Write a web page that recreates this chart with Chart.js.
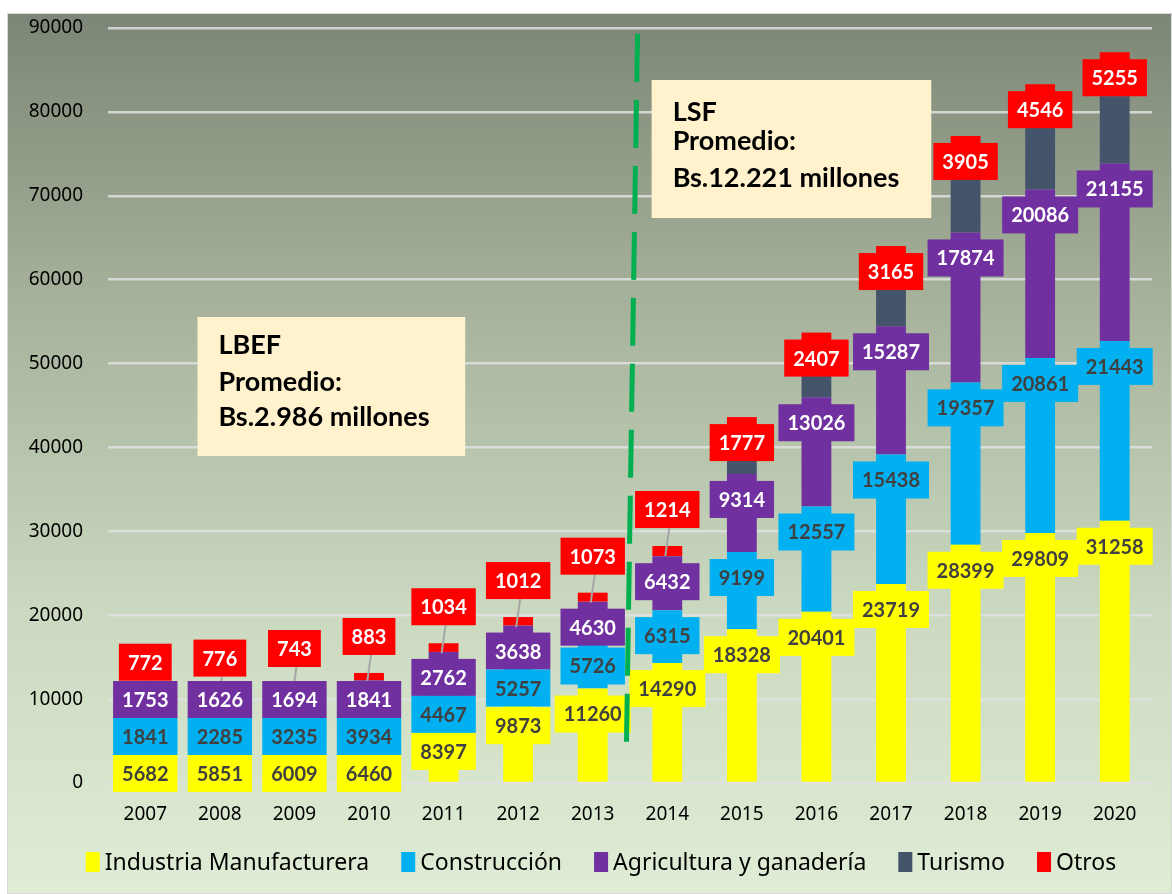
<!DOCTYPE html>
<html>
<head>
<meta charset="utf-8">
<script src="https://cdn.jsdelivr.net/npm/chart.js@4.4.1/dist/chart.umd.min.js"></script>
<style>
  html, body { margin: 0; padding: 0; background: #ffffff; }
  #wrap { width: 1172px; height: 894px; }
</style>
</head>
<body>
<div id="wrap"><canvas id="c" width="1172" height="894"></canvas></div>
<script>
// ---- data ----
const years = ['2007','2008','2009','2010','2011','2012','2013','2014','2015','2016','2017','2018','2019','2020'];
const industria    = [5682, 5851, 6009, 6460, 8397, 9873, 11260, 14290, 18328, 20401, 23719, 28399, 29809, 31258];
const construccion = [1841, 2285, 3235, 3934, 4467, 5257, 5726, 6315, 9199, 12557, 15438, 19357, 20861, 21443];
const agricultura  = [1753, 1626, 1694, 1841, 2762, 3638, 4630, 6432, 9314, 13026, 15287, 17874, 20086, 21155];
const turismo      = [0, 0, 0, 0, 0, 0, 0, 0, 5000, 5300, 6400, 7600, 8000, 8000];
const otros        = [772, 776, 743, 883, 1034, 1012, 1073, 1214, 1777, 2407, 3165, 3905, 4546, 5255];
const seriesNames  = ['Industria Manufacturera', 'Construcción', 'Agricultura y ganadería', 'Turismo', 'Otros'];
const yTicks       = [0, 10000, 20000, 30000, 40000, 50000, 60000, 70000, 80000, 90000];
const notes = [
  { lines: ['LBEF', 'Promedio:', 'Bs.2.986 millones'] },
  { lines: ['LSF', 'Promedio:', 'Bs.12.221 millones'] }
];

// ---- styles ----
const seriesColors = ['#FFFF00', '#00B0F0', '#7030A0', '#44546A', '#FF0000'];
const labelTextColors = ['#404040', '#404040', '#FFFFFF', null, '#FFFFFF'];
const movedOtrosLabels = 8; // first categories whose "Otros" label sits above the bar with a leader line

const bgPlugin = {
  id: 'bg',
  beforeDraw(chart) {
    const ctx = chart.ctx;
    ctx.save();
    ctx.fillStyle = '#ffffff';
    ctx.fillRect(0, 0, chart.width, chart.height);
    const g = ctx.createLinearGradient(0, 13, 0, chart.height);
    g.addColorStop(0, '#7c8676');
    g.addColorStop(0.33, '#a6b29b');
    g.addColorStop(0.68, '#cbd9c0');
    g.addColorStop(1, '#e0edd6');
    ctx.fillStyle = g;
    ctx.fillRect(7, 13, chart.width - 7, chart.height - 13);
    ctx.strokeStyle = '#d9d9d9';
    ctx.lineWidth = 1;
    ctx.strokeRect(7.5, 13.5, chart.width - 8, chart.height - 14);
    ctx.restore();
  }
};

const labelPlugin = {
  id: 'segLabels',
  afterDatasetsDraw(chart) {
    const ctx = chart.ctx;
    const area = chart.chartArea;
    const H = 37;
    ctx.save();
    ctx.font = 'bold 20px Lato';
    ctx.textAlign = 'center';
    ctx.textBaseline = 'middle';
    for (let i = 0; i < years.length; i++) {
      const boxes = [];
      let prevBottom = -Infinity;
      const elO = chart.getDatasetMeta(4).data[i];
      if (i < movedOtrosLabels) {
        const bottom = elO.y - 18;
        boxes.push({ ds: 4, el: elO, top: bottom - H, fixed: true });
      } else {
        const top = elO.y + 7;
        boxes.push({ ds: 4, el: elO, top });
        prevBottom = top + H;
      }
      for (const ds of [2, 1, 0]) {
        const el = chart.getDatasetMeta(ds).data[i];
        const top = Math.max(el.y + 7, prevBottom);
        boxes.push({ ds, el, top });
        prevBottom = top + H;
      }
      const limit = area.bottom + 9;
      const over = prevBottom - limit;
      if (over > 0) boxes.forEach(b => { if (!b.fixed) b.top -= over; });
      boxes.forEach(b => {
        if (b.fixed) {
          ctx.strokeStyle = '#a6a6a6';
          ctx.lineWidth = 2;
          ctx.beginPath();
          ctx.moveTo(b.el.x + 2, b.top + H);
          ctx.lineTo(b.el.x - 2, b.el.y + 10);
          ctx.stroke();
        }
      });
      boxes.forEach(b => {
        const v = chart.data.datasets[b.ds].data[i];
        const txt = String(v);
        const w = ctx.measureText(txt).width + 18;
        ctx.fillStyle = seriesColors[b.ds];
        ctx.fillRect(b.el.x - w / 2, b.top, w, H);
        ctx.fillStyle = labelTextColors[b.ds];
        ctx.fillText(txt, b.el.x, b.top + H / 2 + 1);
      });
    }
    ctx.restore();
  }
};

const notesPlugin = {
  id: 'notes',
  afterDatasetsDraw(chart) {
    const ctx = chart.ctx;
    const xs = chart.scales.x, ys = chart.scales.y;
    ctx.save();
    const mid = xs.getPixelForValue(6.5);
    ctx.strokeStyle = '#00B050';
    ctx.lineWidth = 5;
    ctx.setLineDash([48, 18]);
    ctx.beginPath();
    ctx.moveTo(mid + 7.5, ys.getPixelForValue(89300));
    ctx.lineTo(mid - 3.5, ys.getPixelForValue(4900));
    ctx.stroke();
    ctx.setLineDash([]);
    const boxDefs = [
      { x0: 0.70, x1: 4.29, y0: 55550, y1: 38980, offs: [28, 65, 100] },
      { x0: 6.79, x1: 10.54, y0: 83800, y1: 67350, offs: [32, 61, 98] }
    ];
    boxDefs.forEach((d, k) => {
      const left = xs.getPixelForValue(d.x0), right = xs.getPixelForValue(d.x1);
      const top = ys.getPixelForValue(d.y0), bottom = ys.getPixelForValue(d.y1);
      ctx.fillStyle = '#FFF2CC';
      ctx.fillRect(left, top, right - left, bottom - top);
      ctx.fillStyle = '#000000';
      ctx.font = 'bold 27px Lato';
      ctx.textAlign = 'left';
      ctx.textBaseline = 'middle';
      notes[k].lines.forEach((t, j) => ctx.fillText(t, left + 21, top + d.offs[j]));
    });
    ctx.restore();
  }
};

const legendPlugin = {
  id: 'customLegend',
  afterDraw(chart) {
    const ctx = chart.ctx;
    ctx.save();
    ctx.font = '23px "Noto Sans"';
    ctx.textBaseline = 'middle';
    ctx.textAlign = 'left';
    const boxW = 14, boxH = 20, gapT = 5, gapI = 32;
    const items = chart.data.datasets.map((d, k) => ({ text: d.label, color: seriesColors[k], w: ctx.measureText(d.label).width }));
    const total = items.reduce((s, it) => s + boxW + gapT + it.w, 0) + gapI * (items.length - 1);
    let x = 601 - total / 2;
    const cy = 862;
    items.forEach(it => {
      ctx.fillStyle = it.color;
      ctx.fillRect(x, cy - boxH / 2, boxW, boxH);
      ctx.fillStyle = '#000000';
      ctx.fillText(it.text, x + boxW + gapT, cy + 1);
      x += boxW + gapT + it.w + gapI;
    });
    ctx.restore();
  }
};

const seriesData = [industria, construccion, agricultura, turismo, otros];
new Chart(document.getElementById('c'), {
  type: 'bar',
  data: {
    labels: years,
    datasets: seriesData.map((d, k) => ({
      label: seriesNames[k],
      data: d,
      backgroundColor: seriesColors[k],
      borderWidth: 0,
      barPercentage: 0.4,
      categoryPercentage: 1.0
    }))
  },
  options: {
    responsive: false,
    animation: false,
    devicePixelRatio: 1,
    layout: { padding: { left: 0, right: 20, top: 28, bottom: 66 } },
    plugins: {
      legend: { display: false },
      tooltip: { enabled: false }
    },
    scales: {
      x: {
        stacked: true,
        grid: { display: false },
        border: { display: false },
        ticks: { color: '#000000', font: { family: '"Noto Sans"', size: 19 }, padding: 12 },
        afterFit(s) { s.height = 45; s.paddingLeft = 0; s.paddingRight = 0; }
      },
      y: {
        stacked: true,
        min: 0,
        max: 90000,
        afterBuildTicks(s) { s.ticks = yTicks.map(v => ({ value: v })); },
        grid: { color: 'rgba(225,225,225,0.85)', lineWidth: 2.5, drawTicks: false },
        border: { display: false },
        ticks: {
          color: '#000000',
          font: { family: '"Noto Sans"', size: 19 },
          padding: 25,
          callback: (v) => String(v)
        },
        afterFit(s) { s.width = 108; s.paddingTop = 0; s.paddingBottom = 0; }
      }
    }
  },
  plugins: [bgPlugin, labelPlugin, notesPlugin, legendPlugin]
});
</script>
</body>
</html>
